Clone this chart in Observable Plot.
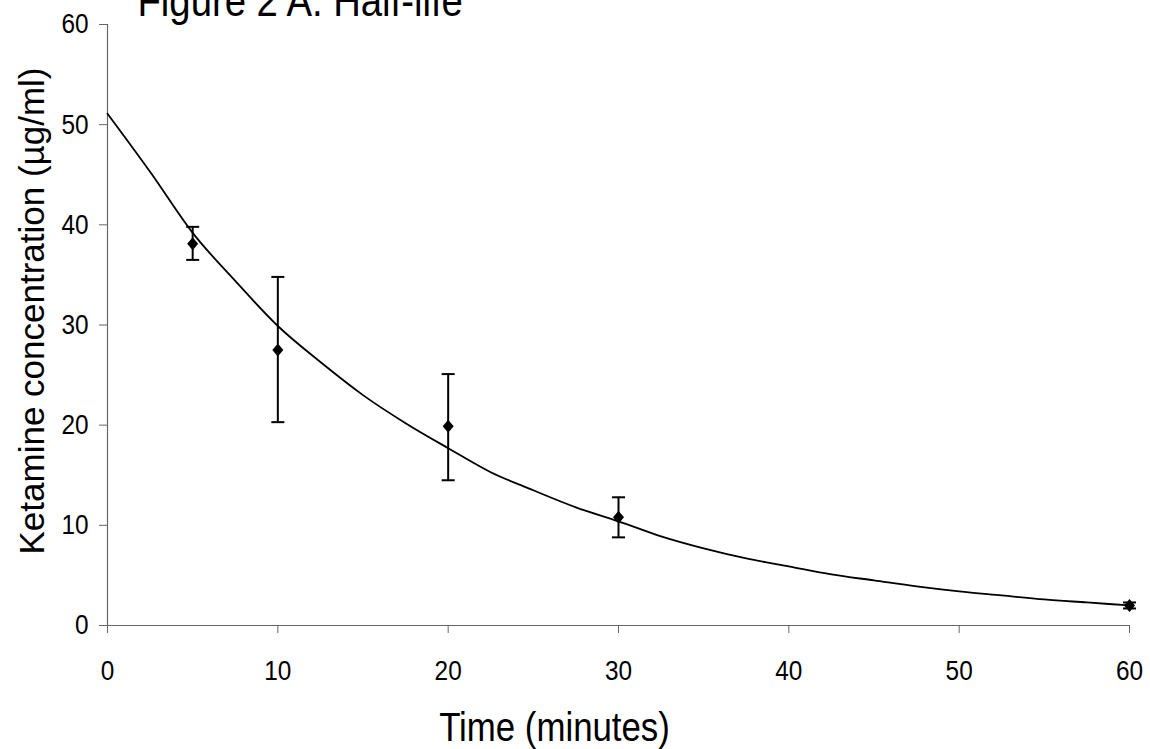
<!DOCTYPE html>
<html>
<head>
<meta charset="utf-8">
<script src="https://cdn.jsdelivr.net/npm/d3@7"></script>
<script src="https://cdn.jsdelivr.net/npm/@observablehq/plot@0.6"></script>
<style>
  html, body { margin: 0; padding: 0; background: #fff; overflow: hidden; }
</style>
</head>
<body>
<div id="chart"></div>
<script>
// Measured points (time in minutes, mean, error bar low/high)
const times = [5, 10, 20, 30, 60];
const means = [38.1, 27.5, 19.9, 10.8, 2.0];
const errLow = [36.5, 20.3, 14.5, 8.8, 1.7];
const errHigh = [39.8, 34.8, 25.1, 12.8, 2.3];

// Fitted curve
const curveT = [0, 2.5, 5, 7.5, 10, 12.5, 15, 17.5, 20, 22.5, 25, 27.5, 30, 32.5, 35, 37.5, 40, 42.5, 45, 47.5, 50, 52.5, 55, 57.5, 60];
const curveC = [51.1, 45.3, 39.2, 34.4, 29.9, 26.3, 23.0, 20.2, 17.7, 15.3, 13.5, 11.8, 10.4, 8.9, 7.7, 6.7, 5.9, 5.1, 4.5, 3.9, 3.4, 3.0, 2.6, 2.3, 2.0];

const xTicks = [0, 10, 20, 30, 40, 50, 60];
const yTicks = [0, 10, 20, 30, 40, 50, 60];
const title = "Figure 2 A. Half-life";
const xLabel = "Time (minutes)";
const yLabel = "Ketamine concentration (\u00b5g/ml)";

const points = times.map((t, i) => ({t, c: means[i], lo: errLow[i], hi: errHigh[i]}));
const curve = curveT.map((t, i) => ({t, c: curveC[i]}));

const capSymbol = { draw(ctx) { ctx.moveTo(-6.5, 0); ctx.lineTo(6.5, 0); } };
const diamondSymbol = { draw(ctx) { ctx.moveTo(0, -6.5); ctx.lineTo(5.5, 0); ctx.lineTo(0, 6.5); ctx.lineTo(-5.5, 0); ctx.closePath(); } };

const font = "'Liberation Sans', Arial, sans-serif";

const chart = Plot.plot({
  width: 1150,
  height: 749,
  marginTop: 24,
  marginBottom: 124,
  marginLeft: 107,
  marginRight: 21,
  style: { fontFamily: font, color: "#000", background: "#fff", overflow: "visible" },
  x: { domain: [0, 60] },
  y: { domain: [0, 60] },
  marks: [
    Plot.axisY({ ticks: yTicks, tickSize: 8, tickPadding: 11, fontSize: 28, stroke: "#666", fill: "#000", label: null, className: "squeeze" }),
    Plot.axisX({ ticks: xTicks, tickSize: 8, tickPadding: 27, fontSize: 28, stroke: "#666", fill: "#000", label: null, className: "squeeze" }),
    Plot.ruleX([0], { stroke: "#666", strokeWidth: 1.2 }),
    Plot.ruleY([0], { stroke: "#666", strokeWidth: 1.2 }),
    Plot.line(curve, { x: "t", y: "c", stroke: "#000", strokeWidth: 1.8, curve: "monotone-x" }),
    Plot.ruleX(points, { x: "t", y1: "lo", y2: "hi", stroke: "#000", strokeWidth: 2 }),
    Plot.dot(points, { x: "t", y: "lo", symbol: capSymbol, stroke: "#000", strokeWidth: 2, r: 6 }),
    Plot.dot(points, { x: "t", y: "hi", symbol: capSymbol, stroke: "#000", strokeWidth: 2, r: 6 }),
    Plot.dot(points, { x: "t", y: "c", symbol: diamondSymbol, fill: "#000", stroke: "none", r: 6 }),
    Plot.text([yLabel], { frameAnchor: "left", rotate: -90, dx: -64, dy: -14, fontSize: 35, fill: "#000", textAnchor: "middle", lineAnchor: "bottom" }),
    Plot.text([xLabel], { frameAnchor: "bottom", dx: -64, dy: 115, fontSize: 40, fill: "#000", textAnchor: "middle", lineAnchor: "bottom", className: "squeeze" }),
    Plot.text([title], { frameAnchor: "top-left", dx: 30, dy: -9, fontSize: 44, fill: "#000", textAnchor: "start", lineAnchor: "bottom", className: "squeeze" })
  ]
});

// Narrow glyph rendering as in the reference (horizontal squeeze of the text only)
chart.querySelectorAll(".squeeze text, text.squeeze, g.squeeze text").forEach(el => {
  const tr = el.getAttribute("transform");
  if (tr && tr.includes("translate")) el.setAttribute("transform", tr + " scale(0.87,1)");
});
document.getElementById("chart").appendChild(chart);
</script>
</body>
</html>
